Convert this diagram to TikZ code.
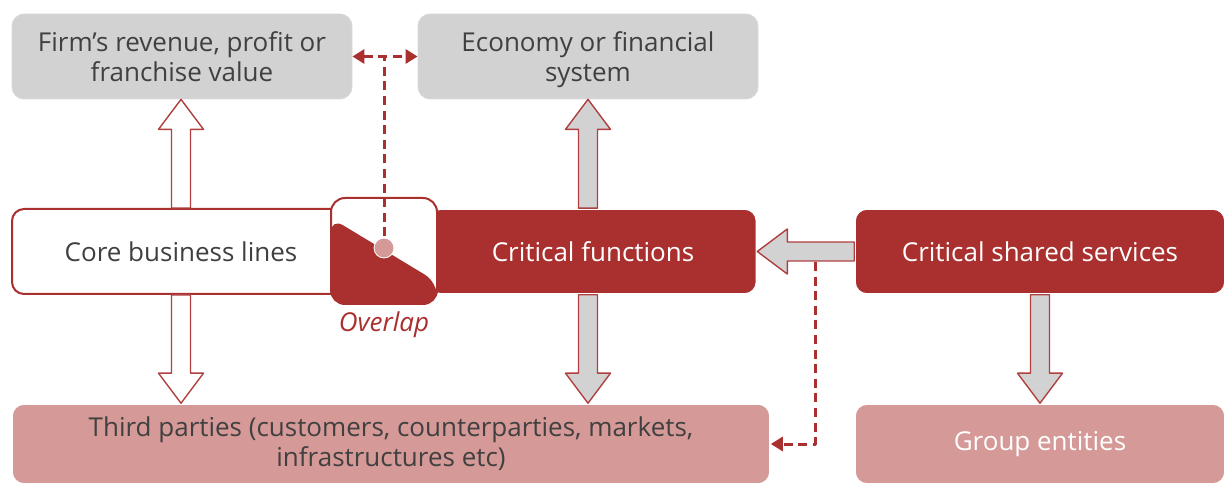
\documentclass[tikz,border=0pt]{standalone}
\usepackage{fontspec}
\setmainfont{Open Sans}
\usetikzlibrary{calc,arrows.meta,positioning}
\definecolor{darkred}{HTML}{A9302F}
\definecolor{lightred}{HTML}{D59997}
\definecolor{boxgray}{HTML}{D2D2D2}
\definecolor{txtgray}{HTML}{404040}
\definecolor{arrowred}{HTML}{B0403F}
% block arrow from #2 to #3 (tip at #3)
\newcommand\blockarrow[3][]{%
  \path ($(#3)!15pt!(#2)$) coordinate (hb);
  \draw[#1] ($(#2)!4.75pt!90:(#3)$) -- ($(hb)!4.75pt!90:(#3)$) -- ($(hb)!11.25pt!90:(#3)$) -- (#3)
    -- ($(hb)!11.25pt!-90:(#3)$) -- ($(hb)!4.75pt!-90:(#3)$) -- ($(#2)!4.75pt!-90:(#3)$) -- cycle;}
\begin{document}
\begin{tikzpicture}[x=0.5pt,y=-0.5pt,>={Triangle[length=6pt,width=7pt]}, font=\fontsize{13}{15}\selectfont, line join=round,
  box/.style={rounded corners=6pt, minimum height=42.5pt, align=center, inner sep=2pt},
  graybox/.style={box, fill=boxgray, draw=white!85!black, line width=0.4pt, text=txtgray, minimum width=170pt},
  redbox/.style={box, fill=darkred, draw=white, line width=0.8pt, text=white},
  pinkbox/.style={box, fill=lightred, draw=white, line width=0.8pt, minimum height=40pt},
  whitearr/.style={fill=white, draw=arrowred, line width=0.7pt},
  grayarr/.style={fill=boxgray, draw=arrowred, line width=0.7pt},
  dashline/.style={draw=darkred, line width=1.5pt, dash pattern=on 4.5pt off 2.8pt}]
\useasboundingbox (0,0) rectangle (1227,486);
% top row
\node[graybox] (firm) at (182,56.5) {Firm’s revenue, profit or\\franchise value};
\node[graybox] (econ) at (588,56.5) {Economy or financial\\\raisebox{0pt}[\height][0pt]{system}};
% middle row
\node[box, fill=white, draw=darkred, line width=1pt, text=txtgray, minimum width=169pt] (core) at (181,251.5) {Core business lines};
\node[redbox, minimum width=163.5pt] (crit) at (593,251.5) {Critical functions};
\node[redbox, minimum width=185pt] (shared) at (1040,251.5) {Critical shared services};
% bottom row
\node[pinkbox, text=txtgray, minimum width=379pt] (third) at (391,444) {Third parties (customers, counterparties, markets,\\infrastructures etc)};
\node[pinkbox, text=white, minimum width=185pt] (group) at (1040,444) {Group entities};
% overlap
\node[draw=darkred, line width=1pt, rounded corners=7pt, minimum size=53pt, fill=white,
  path picture={\fill[darkred] (path picture bounding box.south west) -- ($(path picture bounding box.north west)+(0,20)$)
    -- ($(path picture bounding box.south east)+(0,-22)$) -- (path picture bounding box.south east) -- cycle;}] (ovl) at (384,251) {};
\node[below=0pt of ovl, text=darkred, font=\fontsize{13}{15}\selectfont\itshape] (ovlbl) {Overlap};
% block arrows
\coordinate (ecoT) at (econ.south |- crit.north);
\coordinate (ecoB) at (econ.south |- crit.south);
\coordinate (thirdL) at (core.south |- third.north);
\coordinate (thirdR) at (econ.south |- third.north);
\blockarrow[whitearr]{core.north}{core.north |- firm.south}
\blockarrow[whitearr]{core.south}{thirdL}
\blockarrow[grayarr]{ecoT}{econ.south}
\blockarrow[grayarr]{ecoB}{thirdR}
\blockarrow[grayarr]{shared.west}{crit.east}
\blockarrow[grayarr]{shared.south}{group.north}
% dashed links
\coordinate (tap) at (815,262);
\draw[dashline] (ovl.center) -- (ovl.center |- firm.east);
\draw[dashline,<->] (firm.east) -- (econ.west);
\draw[dashline,->] (tap) |- (third.east);
\node[circle, fill=lightred, draw=white, line width=0.4pt, minimum size=10pt, inner sep=0pt] (ovc) at (384,248) {};
\end{tikzpicture}
\end{document}
